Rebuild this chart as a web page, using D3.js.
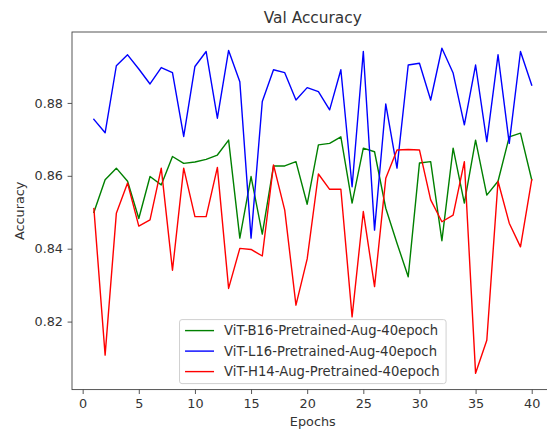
<!DOCTYPE html>
<html>
<head>
<meta charset="utf-8">
<script src="https://cdn.jsdelivr.net/npm/d3@7"></script>
<style>
  html, body { margin: 0; padding: 0; background: #fff; }
  svg { display: block; }
  text { font-family: "DejaVu Sans", sans-serif; fill: #333; }
</style>
</head>
<body>
<svg id="chart" width="547" height="429"></svg>
<script>
// Validation accuracy per epoch for three ViT variants
const epochs = d3.range(1, 41);

const b16Pretrained = [
  0.8500, 0.8589, 0.8621, 0.8585, 0.8483, 0.8598, 0.8575, 0.8653, 0.8634, 0.8638,
  0.8645, 0.8657, 0.8698, 0.8429, 0.8598, 0.8440, 0.8627, 0.8627, 0.8639, 0.8522,
  0.8685, 0.8689, 0.8707, 0.8525, 0.8676, 0.8666, 0.8511, 0.8415, 0.8323, 0.8635,
  0.8639, 0.8422, 0.8676, 0.8525, 0.8698, 0.8547, 0.8585, 0.8707, 0.8717, 0.8589
];

const l16Pretrained = [
  0.8755, 0.8718, 0.8902, 0.8932, 0.8893, 0.8852, 0.8897, 0.8883, 0.8708, 0.8900,
  0.8941, 0.8758, 0.8944, 0.8858, 0.8429, 0.8804, 0.8891, 0.8883, 0.8808, 0.8842,
  0.8831, 0.8781, 0.8891, 0.8570, 0.8941, 0.8451, 0.8797, 0.8621, 0.8904, 0.8909,
  0.8808, 0.8950, 0.8882, 0.8740, 0.8904, 0.8694, 0.8932, 0.8689, 0.8941, 0.8849
];

const h14Pretrained = [
  0.8510, 0.8108, 0.8497, 0.8580, 0.8462, 0.8479, 0.8621, 0.8341, 0.8621, 0.8488,
  0.8488, 0.8623, 0.8291, 0.8401, 0.8398, 0.8380, 0.8630, 0.8506, 0.8245, 0.8372,
  0.8605, 0.8563, 0.8563, 0.8213, 0.8502, 0.8296, 0.8593, 0.8671, 0.8672, 0.8671,
  0.8534, 0.8474, 0.8492, 0.8639, 0.8058, 0.8149, 0.8585, 0.8470, 0.8405, 0.8589
];

const seriesNames = [
  "ViT-B16-Pretrained-Aug-40epoch",
  "ViT-L16-Pretrained-Aug-40epoch",
  "ViT-H14-Aug-Pretrained-40epoch"
];
const seriesColors = ["#008000", "#0000ff", "#ff0000"];
const seriesValues = [b16Pretrained, l16Pretrained, h14Pretrained];

const xTicks = [0, 5, 10, 15, 20, 25, 30, 35, 40];
const yTicks = [0.82, 0.84, 0.86, 0.88];

const titleText = "Val Accuracy";
const xLabel = "Epochs";
const yLabel = "Accuracy";

// Plot frame (the right edge runs past the visible canvas)
const frame = { left: 72, top: 32, right: 553.6, bottom: 389.6 };
const fontSize = 12.8;
const legendFontSize = 13.2;

const svg = d3.select("#chart");

// Padded limits: 5% of the data span on every side
const xMin = d3.min(epochs), xMax = d3.max(epochs);
const xPad = (xMax - xMin) * 0.05;
const allVals = seriesValues.flat();
const yMinV = d3.min(allVals), yMaxV = d3.max(allVals);
const yPad = (yMaxV - yMinV) * 0.05;

const x = d3.scaleLinear()
  .domain([xMin - xPad, xMax + xPad])
  .range([frame.left, frame.right]);
const y = d3.scaleLinear()
  .domain([yMinV - yPad, yMaxV + yPad])
  .range([frame.bottom, frame.top]);

// Lines
const line = d3.line()
  .x((d, i) => x(epochs[i]))
  .y(d => y(d));

const plot = svg.append("g");
seriesValues.forEach((vals, k) => {
  plot.append("path")
    .datum(vals)
    .attr("fill", "none")
    .attr("stroke", seriesColors[k])
    .attr("stroke-width", 1.4)
    .attr("stroke-linejoin", "round")
    .attr("stroke-linecap", "square")
    .attr("d", line);
});

// Axes
const xAxis = d3.axisBottom(x).tickValues(xTicks).tickSize(4.4).tickPadding(4.6)
  .tickFormat(d3.format("d"));
const yAxis = d3.axisLeft(y).tickValues(yTicks).tickSize(4.4).tickPadding(4.6)
  .tickFormat(d3.format(".2f"));

const gx = svg.append("g")
  .attr("transform", `translate(0,${frame.bottom})`)
  .call(xAxis);
const gy = svg.append("g")
  .attr("transform", `translate(${frame.left},0)`)
  .call(yAxis);

[gx, gy].forEach(g => {
  g.select(".domain").remove();
  g.selectAll(".tick line").attr("stroke", "#444").attr("stroke-width", 0.9);
  g.selectAll(".tick text")
    .attr("font-family", "DejaVu Sans")
    .attr("font-size", fontSize)
    .attr("fill", "#333");
});

// Spines
svg.append("rect")
  .attr("x", frame.left)
  .attr("y", frame.top)
  .attr("width", frame.right - frame.left)
  .attr("height", frame.bottom - frame.top)
  .attr("fill", "none")
  .attr("stroke", "#444")
  .attr("stroke-width", 0.9);

// Title and axis labels
const cx = (frame.left + frame.right) / 2;
svg.append("text")
  .attr("x", cx).attr("y", 23)
  .attr("text-anchor", "middle")
  .attr("font-size", fontSize * 1.2)
  .text(titleText);

svg.append("text")
  .attr("x", cx).attr("y", 426)
  .attr("text-anchor", "middle")
  .attr("font-size", fontSize)
  .text(xLabel);

svg.append("text")
  .attr("transform", `translate(24,${(frame.top + frame.bottom) / 2}) rotate(-90)`)
  .attr("text-anchor", "middle")
  .attr("font-size", fontSize)
  .text(yLabel);

// Legend, anchored at the lower centre of the frame
const rowGap = 20.5;
const handleLen = 29;
const handleGap = 10;
const padX = 5.5;
const legend = svg.append("g");
const box = legend.append("rect");
const rows = legend.selectAll("g.row")
  .data(seriesNames)
  .join("g")
  .attr("class", "row");
const labels = rows.append("text")
  .attr("font-size", legendFontSize)
  .attr("dy", "0.35em")
  .text(d => d);
const textW = d3.max(labels.nodes(), n => n.getComputedTextLength());
const boxW = padX + handleLen + handleGap + textW + padX + 1;
const boxH = 64;
const boxX = cx - boxW / 2;
const boxY = frame.bottom - 6 - boxH;

box.attr("x", boxX).attr("y", boxY)
  .attr("width", boxW).attr("height", boxH)
  .attr("rx", 2.5)
  .attr("fill", "#fff").attr("fill-opacity", 0.8)
  .attr("stroke", "#d0d0d0").attr("stroke-width", 1);

rows.attr("transform", (d, i) => `translate(${boxX + padX},${boxY + 11 + i * rowGap})`);
rows.append("line")
  .attr("x1", 0).attr("x2", handleLen)
  .attr("y1", 0).attr("y2", 0)
  .attr("stroke", (d, i) => seriesColors[i])
  .attr("stroke-width", 1.4);
labels.attr("x", handleLen + handleGap);
</script>
</body>
</html>
